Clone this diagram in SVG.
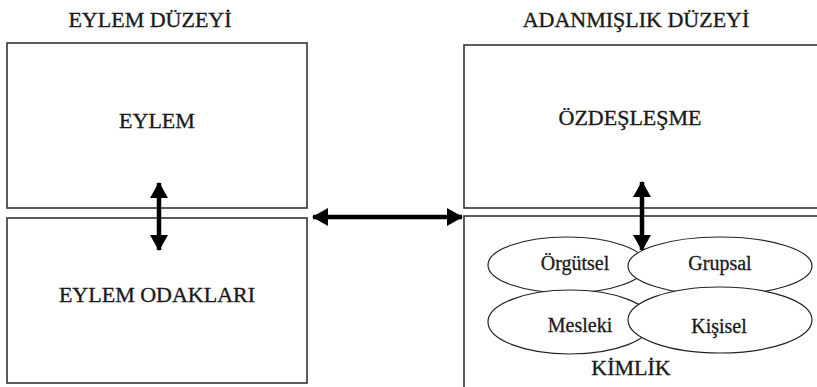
<svg xmlns="http://www.w3.org/2000/svg" width="817" height="387" viewBox="0 0 817 387">
  <style>
    .box { fill: #fff; stroke: #333; stroke-width: 1.6; }
    .oval { fill: #fff; stroke: #222; stroke-width: 1.2; }
    .big { font-family: "Liberation Serif", "Times New Roman", serif; font-size: 22px; fill: #1a1a1a; stroke: #1a1a1a; stroke-width: 0.35; text-anchor: middle; }
    .small { font-family: "Liberation Serif", "Times New Roman", serif; font-size: 20px; fill: #1a1a1a; stroke: #1a1a1a; stroke-width: 0.3; text-anchor: middle; }
    .link { stroke: #000; stroke-width: 4.5; fill: none; marker-start: url(#head); marker-end: url(#head); }
  </style>
  <defs>
    <marker id="head" markerUnits="userSpaceOnUse" markerWidth="18" markerHeight="18" viewBox="0 0 16 18" refX="15" refY="9" orient="auto-start-reverse">
      <path d="M0,0 L16,9 L0,18 Z" fill="#000"/>
    </marker>
  </defs>

  <rect width="817" height="387" fill="#fff"/>

  <!-- level headings -->
  <text class="big" x="150" y="27">EYLEM DÜZEYİ</text>
  <text class="big" x="636" y="27">ADANMIŞLIK DÜZEYİ</text>

  <g id="eylem">
    <rect class="box" x="7" y="43" width="300" height="165"/>
    <text class="big" x="157" y="128">EYLEM</text>
  </g>

  <g id="eylem-odaklari">
    <rect class="box" x="7" y="218" width="300" height="165"/>
    <text class="big" x="157" y="302">EYLEM ODAKLARI</text>
  </g>

  <g id="ozdeslesme">
    <rect class="box" x="464" y="45" width="370" height="163"/>
    <text class="big" x="630" y="125">ÖZDEŞLEŞME</text>
  </g>

  <g id="kimlik">
    <rect class="box" x="464" y="216" width="370" height="190"/>
    <text class="big" x="631" y="375">KİMLİK</text>
  </g>

  <g id="orgutsel">
    <ellipse class="oval" cx="567" cy="265" rx="79" ry="28"/>
    <text class="small" x="575" y="270">Örgütsel</text>
  </g>
  <g id="mesleki">
    <ellipse class="oval" cx="570" cy="322" rx="82" ry="32"/>
    <text class="small" x="580" y="332">Mesleki</text>
  </g>
  <g id="grupsal">
    <ellipse class="oval" cx="720" cy="266" rx="92" ry="29"/>
    <text class="small" x="720" y="270">Grupsal</text>
  </g>
  <g id="kisisel">
    <ellipse class="oval" cx="720" cy="320" rx="92" ry="33"/>
    <text class="small" x="719" y="333">Kişisel</text>
  </g>

  <g id="connectors">
    <path class="link" d="M159,183 L159,250"/>
    <path class="link" d="M642,182 L642,250"/>
    <path class="link" d="M313,217 L462,217"/>
  </g>
</svg>
